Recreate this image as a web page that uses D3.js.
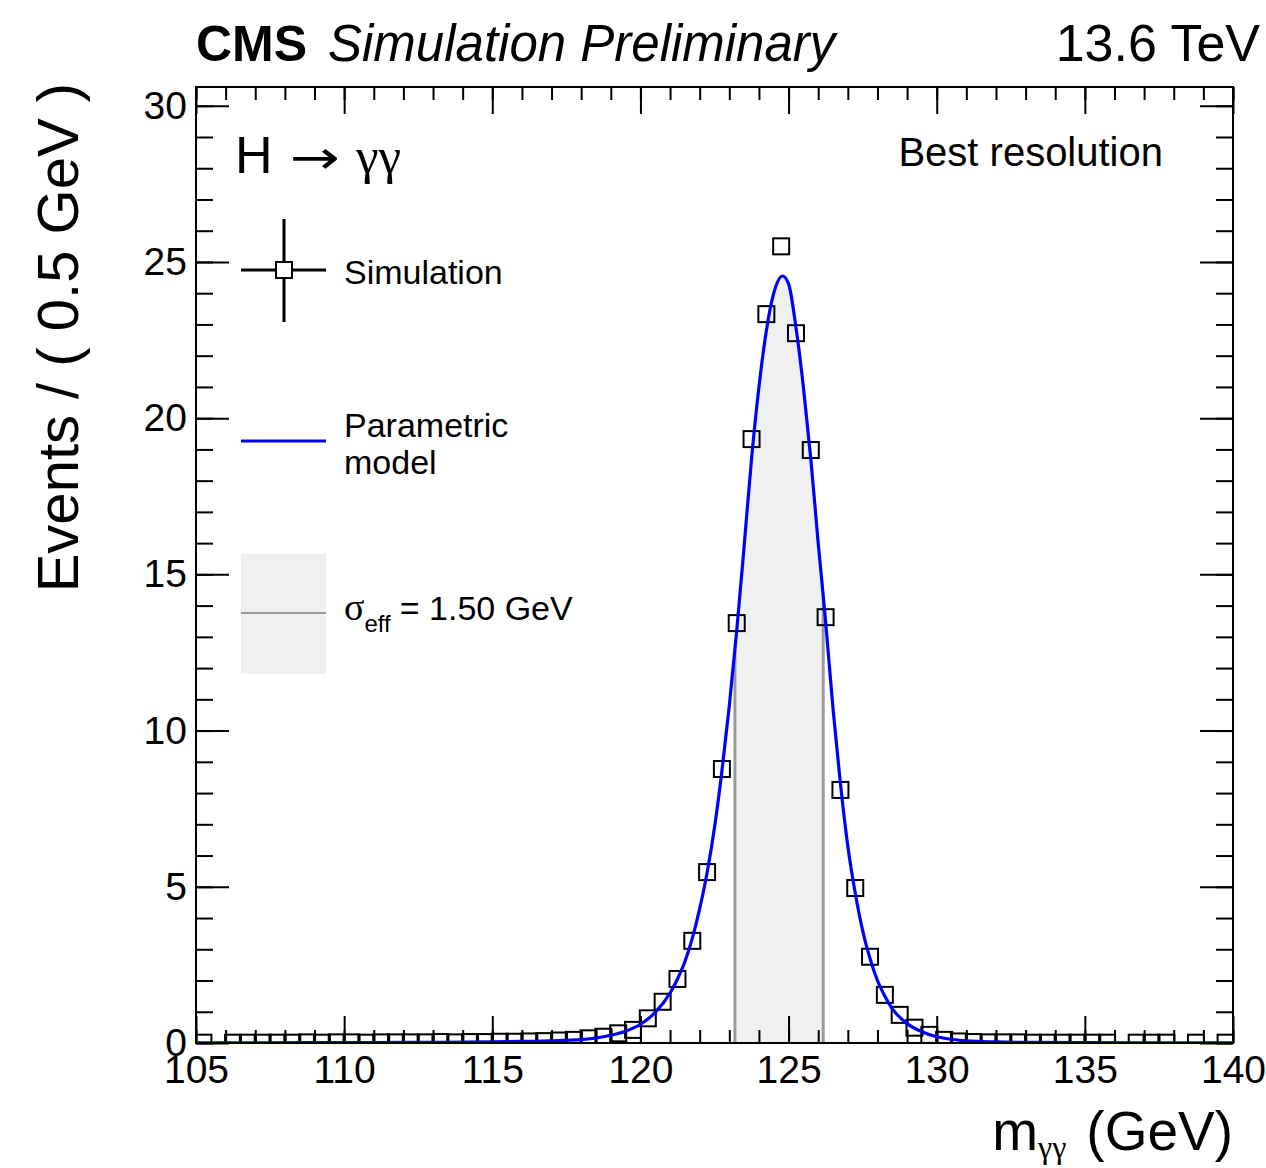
<!DOCTYPE html>
<html>
<head>
<meta charset="utf-8">
<script src="https://cdn.jsdelivr.net/npm/d3@7"></script>
<style>
  html, body { margin: 0; padding: 0; background: #fff; }
  svg { display: block; }
  text { fill: #000; }
</style>
</head>
<body>
<svg id="chart" width="1266" height="1168"></svg>
<script>
// ---------------- DATA ----------------
// Simulated diphoton mass histogram: bin centres (GeV), 0.5 GeV bins
const binCenters = [
  105.25,105.75,106.25,106.75,107.25,107.75,108.25,108.75,109.25,109.75,
  110.25,110.75,111.25,111.75,112.25,112.75,113.25,113.75,114.25,114.75,
  115.25,115.75,116.25,116.75,117.25,117.75,118.25,118.75,119.25,119.75,
  120.25,120.75,121.25,121.75,122.25,122.75,123.25,123.75,124.25,124.75,
  125.25,125.75,126.25,126.75,127.25,127.75,128.25,128.75,129.25,129.75,
  130.25,130.75,131.25,131.75,132.25,132.75,133.25,133.75,134.25,134.75,
  135.25,135.75,136.25,136.75,137.25,137.75,138.25,138.75,139.25,139.75
];
// Events per bin (null = empty bin, not drawn)
const simEvents = [
  0.01,null,0.01,0.01,0.01,0.01,0.01,0.02,0.01,0.02,
  0.02,0.01,0.02,0.02,0.02,0.02,0.03,0.02,0.03,0.03,
  0.04,0.04,0.05,0.06,0.08,0.10,0.15,0.20,0.31,0.42,
  0.79,1.32,2.05,3.27,5.47,8.77,13.44,19.33,23.33,25.50,
  22.72,18.98,13.63,8.10,4.96,2.76,1.54,0.90,0.49,0.26,
  0.10,0.05,0.03,0.02,0.02,0.02,0.01,0.01,0.01,0.01,
  0.01,0.01,null,0.01,0.01,0.01,null,0.01,null,0.01
];
// Parametric model curve
const modelMass = [
  105.0,107.0,109.0,111.0,113.0,115.0,116.0,117.0,118.0,118.5,
  119.0,119.5,120.0,120.5,121.0,121.25,121.5,121.75,122.0,122.25,
  122.5,122.75,123.0,123.25,123.5,123.75,124.0,124.25,124.5,124.8,
  125.0,125.25,125.5,125.75,126.0,126.25,126.5,126.75,127.0,127.25,
  127.5,127.75,128.0,128.25,128.5,129.0,129.5,130.0,130.5,131.0,
  132.0,133.0,135.0,137.0,140.0
];
const modelValue = [
  0.005,0.008,0.011,0.015,0.022,0.035,0.05,0.07,0.11,0.16,
  0.25,0.38,0.60,0.98,1.60,2.05,2.60,3.35,4.30,5.45,
  6.90,8.70,10.80,13.20,15.90,18.70,21.00,22.80,24.00,24.55,
  24.30,22.90,21.00,18.70,16.00,13.50,10.70,8.30,6.30,4.80,
  3.60,2.70,2.00,1.50,1.10,0.62,0.36,0.20,0.12,0.07,
  0.035,0.02,0.01,0.007,0.005
];
// Effective-sigma window edges (GeV)
const sigmaEffWindow = [123.19, 126.17];

// Axis ticks
const xMajorTicks = [105,110,115,120,125,130,135,140];
const xTickLabels = ["105","110","115","120","125","130","135","140"];
const xMinorTicks = d3.range(105, 141, 1);
const yMajorTicks = [0,5,10,15,20,25,30];
const yTickLabels = ["0","5","10","15","20","25","30"];
const yMinorTicks = d3.range(0, 31, 1);

// ---------------- LAYOUT ----------------
const SANS = '"Liberation Sans", Arial, Helvetica, sans-serif';
const SERIF = '"Liberation Serif", "Times New Roman", serif';
const L = 196, R = 1233, T = 87, B = 1043;
const svg = d3.select("#chart").style("font-family", SANS);
const x = d3.scaleLinear().domain([105, 140]).range([L, R]);
const y = d3.scaleLinear().domain([0, 30.6]).range([B, T]);

const model = modelMass.map((m, i) => ({ m, v: modelValue[i] }));
const sim = binCenters.map((m, i) => ({ m, v: simEvents[i] })).filter(d => d.v !== null);

// clip to plot frame
svg.append("clipPath").attr("id", "frameClip")
  .append("rect").attr("x", L).attr("y", T).attr("width", R - L).attr("height", B - T);

// clip to area under the model curve
const areaGen = d3.area().x(d => x(d.m)).y0(y(0)).y1(d => y(d.v)).curve(d3.curveMonotoneX);
svg.append("clipPath").attr("id", "underCurve")
  .append("path").attr("d", areaGen(model));

// shaded sigma_eff band
const band = svg.append("g").attr("clip-path", "url(#underCurve)");
band.append("rect")
  .attr("x", x(sigmaEffWindow[0])).attr("y", T)
  .attr("width", x(sigmaEffWindow[1]) - x(sigmaEffWindow[0]))
  .attr("height", B - T)
  .attr("fill", "#f0f0f0");
band.selectAll("line.edge").data(sigmaEffWindow).enter().append("line")
  .attr("x1", d => x(d)).attr("x2", d => x(d))
  .attr("y1", T).attr("y2", B)
  .attr("stroke", "#9a9a9a").attr("stroke-width", 3);

// ---------------- AXES ----------------
function styleAxis(g) {
  g.select(".domain").remove();
  g.selectAll(".tick line").attr("stroke", "#000").attr("stroke-width", 2);
  g.selectAll(".tick text").style("font-size", "39px").style("font-family", SANS).attr("fill", "#000");
}
// bottom
svg.append("g").attr("transform", `translate(0,${B})`)
  .call(d3.axisBottom(x).tickValues(xMinorTicks).tickSizeInner(-13).tickSizeOuter(0).tickFormat(""))
  .call(styleAxis);
svg.append("g").attr("transform", `translate(0,${B})`)
  .call(d3.axisBottom(x).tickValues(xMajorTicks).tickSizeInner(-27).tickSizeOuter(0).tickPadding(12)
    .tickFormat((d, i) => xTickLabels[i]))
  .call(styleAxis);
// top
svg.append("g").attr("transform", `translate(0,${T})`)
  .call(d3.axisTop(x).tickValues(xMinorTicks).tickSizeInner(-13).tickSizeOuter(0).tickFormat(""))
  .call(styleAxis);
svg.append("g").attr("transform", `translate(0,${T})`)
  .call(d3.axisTop(x).tickValues(xMajorTicks).tickSizeInner(-27).tickSizeOuter(0).tickFormat(""))
  .call(styleAxis);
// left
svg.append("g").attr("transform", `translate(${L},0)`)
  .call(d3.axisLeft(y).tickValues(yMinorTicks).tickSizeInner(-17).tickSizeOuter(0).tickFormat(""))
  .call(styleAxis);
svg.append("g").attr("transform", `translate(${L},0)`)
  .call(d3.axisLeft(y).tickValues(yMajorTicks).tickSizeInner(-33).tickSizeOuter(0).tickPadding(9)
    .tickFormat((d, i) => yTickLabels[i]))
  .call(styleAxis);
// right
svg.append("g").attr("transform", `translate(${R},0)`)
  .call(d3.axisRight(y).tickValues(yMinorTicks).tickSizeInner(-17).tickSizeOuter(0).tickFormat(""))
  .call(styleAxis);
svg.append("g").attr("transform", `translate(${R},0)`)
  .call(d3.axisRight(y).tickValues(yMajorTicks).tickSizeInner(-33).tickSizeOuter(0).tickFormat(""))
  .call(styleAxis);

// ---------------- MARKS ----------------
const plot = svg.append("g").attr("clip-path", "url(#frameClip)");
const ms = 16;
plot.selectAll("rect.pt").data(sim).enter().append("rect")
  .attr("class", "pt")
  .attr("x", d => x(d.m) - ms / 2).attr("y", d => y(d.v) - ms / 2)
  .attr("width", ms).attr("height", ms)
  .attr("fill", "none").attr("stroke", "#000").attr("stroke-width", 2);

const lineGen = d3.line().x(d => x(d.m)).y(d => y(d.v)).curve(d3.curveMonotoneX);
plot.append("path").attr("d", lineGen(model))
  .attr("fill", "none").attr("stroke", "#0000ff").attr("stroke-width", 3.2);

// frame
svg.append("rect").attr("x", L).attr("y", T).attr("width", R - L).attr("height", B - T)
  .attr("fill", "none").attr("stroke", "#000").attr("stroke-width", 2);

// ---------------- TEXT ----------------
function txt(xp, yp, size, s) {
  return svg.append("text").attr("x", xp).attr("y", yp).style("font-size", size + "px").text(s);
}
txt(196, 61, 50, "CMS").style("font-weight", "bold");
txt(328, 61, 51, "Simulation Preliminary").style("font-style", "italic");
txt(1260, 61, 52, "13.6 TeV").attr("text-anchor", "end");

// axis titles
svg.append("text").attr("transform", `translate(78,${T - 4}) rotate(-90)`)
  .attr("text-anchor", "end").style("font-size", "58px").text("Events / ( 0.5 GeV )");
const xt = svg.append("text").attr("x", R).attr("y", 1150).style("font-size", "55px").attr("text-anchor", "end");
xt.append("tspan").text("m");
xt.append("tspan").attr("dy", 8).style("font-size", "32px").style("font-family", SERIF).text("γγ");
xt.append("tspan").attr("dy", -8).attr("dx", 20).text("(GeV)");

// process label
txt(235, 173, 52, "H");
svg.append("text").attr("transform", "translate(290,173) scale(1.3,1)")
  .style("font-size", "46px").style("font-family", '"DejaVu Sans", sans-serif').text("→");
txt(356, 173, 51, "γγ").style("font-family", SERIF);

txt(1163, 166, 40, "Best resolution").attr("text-anchor", "end");

// ---------------- LEGEND ----------------
const lg = svg.append("g");
// Simulation
lg.append("line").attr("x1", 241).attr("x2", 326).attr("y1", 270).attr("y2", 270).attr("stroke", "#000").attr("stroke-width", 3);
lg.append("line").attr("x1", 284).attr("x2", 284).attr("y1", 219).attr("y2", 322).attr("stroke", "#000").attr("stroke-width", 3);
lg.append("rect").attr("x", 284 - ms / 2).attr("y", 270 - ms / 2).attr("width", ms).attr("height", ms)
  .attr("fill", "#fff").attr("stroke", "#000").attr("stroke-width", 2);
txt(344, 284, 34, "Simulation");
// Parametric model
lg.append("line").attr("x1", 241).attr("x2", 326).attr("y1", 441).attr("y2", 441).attr("stroke", "#0000ff").attr("stroke-width", 3.2);
txt(344, 437, 34, "Parametric");
txt(344, 474, 34, "model");
// sigma eff
lg.append("rect").attr("x", 241).attr("y", 554).attr("width", 85).attr("height", 120).attr("fill", "#f0f0f0");
lg.append("line").attr("x1", 241).attr("x2", 326).attr("y1", 613).attr("y2", 613).attr("stroke", "#9a9a9a").attr("stroke-width", 2);
const st = txt(344, 620, 34, "");
st.append("tspan").style("font-family", SERIF).style("font-size", "38px").text("σ");
st.append("tspan").attr("dy", 12).style("font-size", "24px").text("eff");
st.append("tspan").attr("dy", -12).attr("dx", 9).text("= 1.50 GeV");
</script>
</body>
</html>
